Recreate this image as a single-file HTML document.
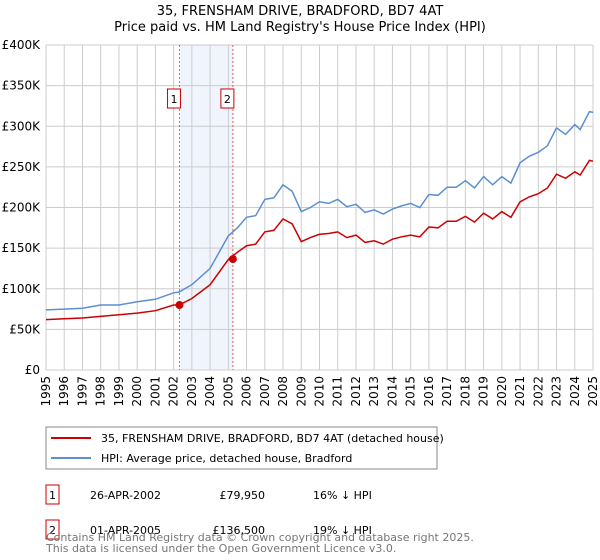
<!DOCTYPE html>
<html><head><meta charset="utf-8"><style>
body{margin:0;background:#fff;font-family:"Liberation Sans","DejaVu Sans",sans-serif;}
svg{display:block}
</style></head><body>
<svg width="600" height="560" font-family="DejaVu Sans, Liberation Sans, sans-serif">
<text x="300" y="15" text-anchor="middle" font-size="13">35, FRENSHAM DRIVE, BRADFORD, BD7 4AT</text>
<text x="300" y="31" text-anchor="middle" font-size="13">Price paid vs. HM Land Registry's House Price Index (HPI)</text>
<g id="plot"></g>
<g>
<rect x="46" y="427" width="391" height="42" fill="#fff" stroke="#888"/>
<line x1="51" y1="438" x2="91" y2="438" stroke="#cc0000" stroke-width="2"/>
<text x="101" y="442" font-size="11">35, FRENSHAM DRIVE, BRADFORD, BD7 4AT (detached house)</text>
<line x1="51" y1="458" x2="91" y2="458" stroke="#5b8fd0" stroke-width="2"/>
<text x="101" y="462" font-size="11">HPI: Average price, detached house, Bradford</text>
</g>
<g font-size="11">
<rect x="46" y="485" width="13" height="19" fill="none" stroke="#cc0000"/>
<text x="52.5" y="499" text-anchor="middle">1</text>
<text x="90" y="499">26-APR-2002</text>
<text x="265" y="499" text-anchor="end">£79,950</text>
<text x="313" y="499">16% ↓ HPI</text>
<rect x="46" y="520" width="13" height="19" fill="none" stroke="#cc0000"/>
<text x="52.5" y="534" text-anchor="middle">2</text>
<text x="90" y="534">01-APR-2005</text>
<text x="265" y="534" text-anchor="end">£136,500</text>
<text x="313" y="534">19% ↓ HPI</text>
</g>
<text x="46" y="541" font-size="11" fill="#777">Contains HM Land Registry data © Crown copyright and database right 2025.</text>
<text x="46" y="552" font-size="11" fill="#777">This data is licensed under the Open Government Licence v3.0.</text>
</svg>
<script>
const hpiYears=[1995,1996,1997,1998,1999,2000,2001,2002,2002.3,2003,2004,2005,2005.5,2006,2006.5,2007,2007.5,2008,2008.5,2009,2009.5,2010,2010.5,2011,2011.5,2012,2012.5,2013,2013.5,2014,2014.5,2015,2015.5,2016,2016.5,2017,2017.5,2018,2018.5,2019,2019.5,2020,2020.5,2021,2021.5,2022,2022.5,2023,2023.5,2024,2024.3,2024.8,2025];
const hpiValues=[74,75,76,80,80,84,87,95,96,105,125,165,175,188,190,210,212,228,220,195,200,207,205,210,201,204,194,197,192,198,202,205,200,216,215,225,225,233,224,238,228,238,230,255,263,268,276,298,290,302,296,318,317];
const priceValues=[62,63,64,66,68,70,73,80,80,88,105,136,145,153,155,170,172,186,180,158,163,167,168,170,163,166,157,159,155,161,164,166,164,176,175,183,183,189,182,193,186,195,188,207,213,217,224,241,236,244,240,258,257];
const saleYears=[2002.32,2005.25];
const salePrices=[79.95,136.5];
const yTicks=[0,50,100,150,200,250,300,350,400];
const yTickLabels=["£0","£50K","£100K","£150K","£200K","£250K","£300K","£350K","£400K"];
const xTicks=[1995,1996,1997,1998,1999,2000,2001,2002,2003,2004,2005,2006,2007,2008,2009,2010,2011,2012,2013,2014,2015,2016,2017,2018,2019,2020,2021,2022,2023,2024,2025];
const X0=46,X1=593,Y0=370,Y1=45;
const xs=y=>X0+(y-1995)/30*(X1-X0);
const ys=v=>Y0-v/400*(Y0-Y1);
const NS="http://www.w3.org/2000/svg";
const g=document.getElementById('plot');
function mk(t,a){const e=document.createElementNS(NS,t);for(const k in a)e.setAttribute(k,a[k]);g.appendChild(e);return e;}
const band=mk('rect',{x:xs(saleYears[0]),y:Y1,width:xs(saleYears[1])-xs(saleYears[0]),height:Y0-Y1,fill:'#f0f5fd'});


yTicks.forEach((v,i)=>{
 const l=mk('line',{x1:X0,x2:X1,y1:ys(v),y2:ys(v),stroke:'#ccc'});
 
 
 const t=mk('text',{x:X0-6,y:ys(v)+4,'text-anchor':'end','font-size':12});
 t.textContent=yTickLabels[i];
 
 
});
xTicks.forEach(yr=>{
 const l=mk('line',{x1:xs(yr),x2:xs(yr),y1:Y1,y2:Y0,stroke:'#ccc'});
 
 
 const t=mk('text',{transform:`translate(${xs(yr)+4},${Y0+6}) rotate(-90)`,'text-anchor':'end','font-size':12});
 t.textContent=yr;
 
 
});
saleYears.forEach((yr,i)=>{
 const l=mk('line',{x1:xs(yr),x2:xs(yr),y1:Y1,y2:Y0,stroke:'#e06060','stroke-dasharray':'2,2'});
 
 
 const r=mk('rect',{x:xs(yr)-12,y:89,width:13,height:19,fill:'#fff',stroke:'#cc0000'});
 
 
 const t=mk('text',{x:xs(yr)-5.5,y:103,'text-anchor':'middle','font-size':11});
 t.textContent=String(i+1);
 
 
});
const pts=arr=>hpiYears.map((y,i)=>xs(y).toFixed(1)+','+ys(arr[i]).toFixed(1)).join(' ');
const hl=mk('polyline',{points:pts(hpiValues),fill:'none',stroke:'#5b8fd0','stroke-width':1.5});


const pl=mk('polyline',{points:pts(priceValues),fill:'none',stroke:'#cc0000','stroke-width':1.5});


saleYears.forEach((yr,i)=>{
 const c=mk('circle',{cx:xs(yr),cy:ys(salePrices[i]),r:4,fill:'#cc0000'});
 
 
});
</script>
</body></html>
